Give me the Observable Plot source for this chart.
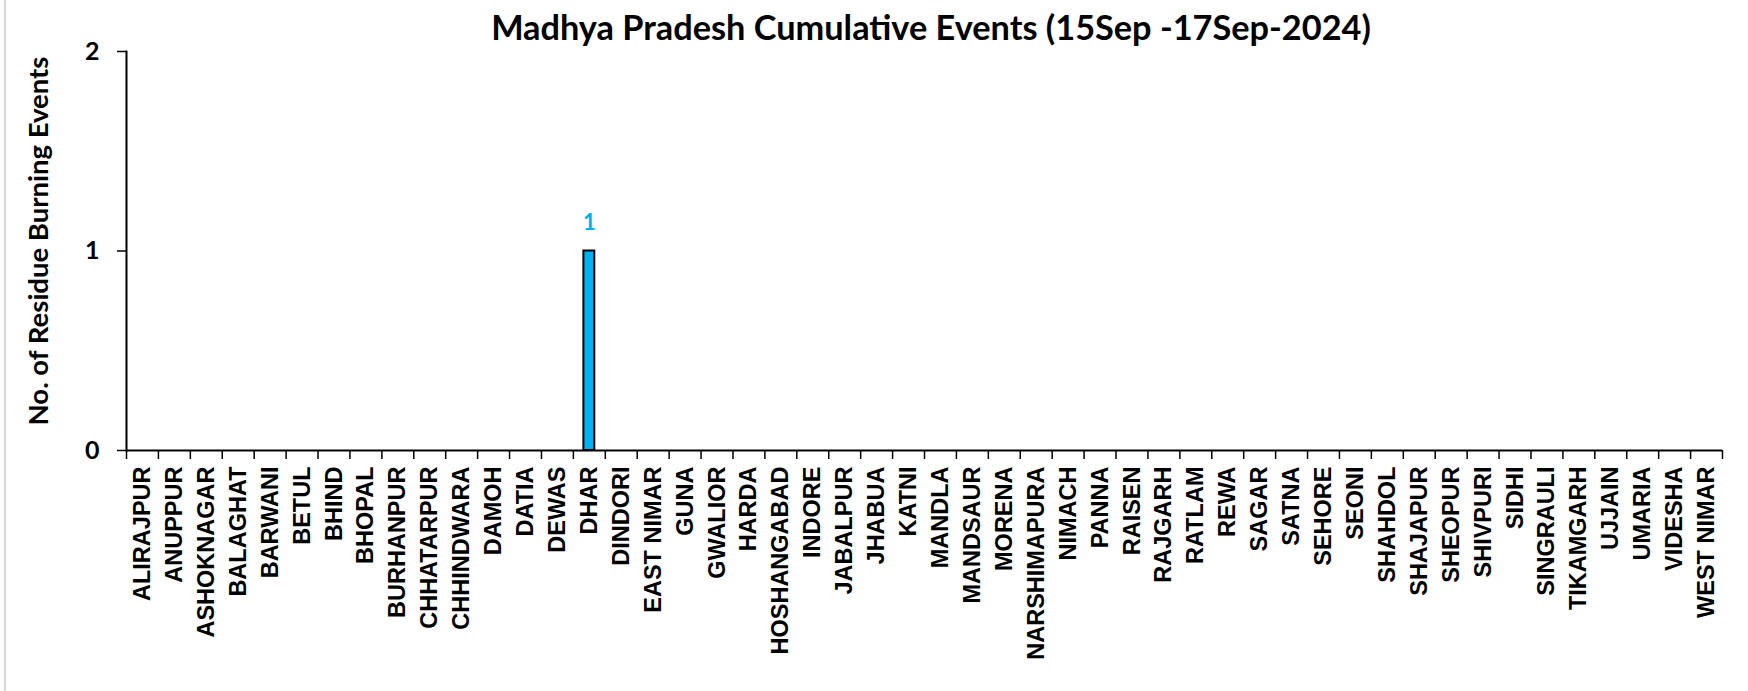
<!DOCTYPE html>
<html>
<head>
<meta charset="utf-8">
<script src="https://cdn.jsdelivr.net/npm/d3@7"></script>
<script src="https://cdn.jsdelivr.net/npm/@observablehq/plot@0.6"></script>
<style>
  html, body { margin: 0; padding: 0; background: #fff; }
  #wrap { position: relative; width: 1748px; height: 691px; overflow: hidden; }
  #border { position: absolute; left: 4px; top: 0; width: 2px; height: 691px; background: #d9d9d9; }
  #title { position: absolute; left: 126px; top: 10px; width: 1610px; text-align: center; height: 34px; line-height: 34px;
           font-family: Lato, "Liberation Sans", sans-serif; font-weight: bold; font-size: 34.3px; color: #000; white-space: nowrap; z-index: 2; }
  svg { display: block; }
</style>
</head>
<body>
<div id="wrap">
  <div id="border"></div>
  <div id="chart"></div>
  <div id="title">Madhya Pradesh Cumulative Events (15Sep -17Sep-2024)</div>
</div>
<script>
const districts = ["ALIRAJPUR","ANUPPUR","ASHOKNAGAR","BALAGHAT","BARWANI","BETUL","BHIND","BHOPAL","BURHANPUR","CHHATARPUR","CHHINDWARA","DAMOH","DATIA","DEWAS","DHAR","DINDORI","EAST NIMAR","GUNA","GWALIOR","HARDA","HOSHANGABAD","INDORE","JABALPUR","JHABUA","KATNI","MANDLA","MANDSAUR","MORENA","NARSHIMAPURA","NIMACH","PANNA","RAISEN","RAJGARH","RATLAM","REWA","SAGAR","SATNA","SEHORE","SEONI","SHAHDOL","SHAJAPUR","SHEOPUR","SHIVPURI","SIDHI","SINGRAULI","TIKAMGARH","UJJAIN","UMARIA","VIDESHA","WEST NIMAR"];
const events = [0,0,0,0,0,0,0,0,0,0,0,0,0,0,1,0,0,0,0,0,0,0,0,0,0,0,0,0,0,0,0,0,0,0,0,0,0,0,0,0,0,0,0,0,0,0,0,0,0,0];
const yTicks = [0, 1, 2];
const yLabel = "No. of Residue Burning Events";

const data = districts.map((d, i) => ({district: d, events: events[i]}));

const W = 1748, H = 691, mL = 126, mR = 26, mT = 51, mB = 241;
const halfBand = (W - mL - mR) / districts.length / 2;

const chart = Plot.plot({
  width: W,
  height: H,
  marginLeft: mL,
  marginRight: mR,
  marginTop: mT,
  marginBottom: mB,
  style: {fontFamily: "Lato, 'Liberation Sans', sans-serif", color: "#000", background: "transparent", overflow: "visible"},
  x: {domain: districts, padding: 0},
  y: {domain: [0, 2]},
  marks: [
    Plot.barY(data, {filter: d => d.events > 0, x: "district", y: "events", fill: "#00B0F0", stroke: "#000", strokeWidth: 2, insetLeft: 10.5, insetRight: 10.5}),
    Plot.text(data, {filter: d => d.events > 0, x: "district", y: "events", text: d => String(d.events), dy: -28, fill: "#00B0F0", fontSize: 22, fontWeight: "bold", fontFamily: "Lato"}),
    Plot.frame({anchor: "left", strokeWidth: 2}),
    Plot.ruleY([0], {strokeWidth: 2}),
    Plot.axisY({ticks: yTicks, tickSize: 9, tickPadding: 18, tickFormat: d3.format("d"), fontSize: 25, fontWeight: "bold", fontFamily: "Lato", strokeWidth: 1.5, label: null}),
    Plot.axisX({tickSize: 9, dx: -halfBand, tickFormat: () => "", strokeWidth: 1.5, label: null}),
    Plot.axisX({ticks: [districts[districts.length - 1]], tickSize: 9, dx: halfBand, tickFormat: () => "", strokeWidth: 1.5, label: null}),
    Plot.axisX({tickSize: 0, tickPadding: 16, tickRotate: -90, fontSize: 23.5, fontWeight: "bold", fontFamily: "'Liberation Sans', Arial, sans-serif", stroke: "#000", strokeWidth: 0.6, label: null}),
    Plot.text([yLabel], {frameAnchor: "left", textAnchor: "middle", lineAnchor: "middle", rotate: -90, dx: -87, dy: -10, fontSize: 27.5, fontWeight: "bold", fontFamily: "Lato"})
  ]
});
document.getElementById("chart").appendChild(chart);
</script>
</body>
</html>
